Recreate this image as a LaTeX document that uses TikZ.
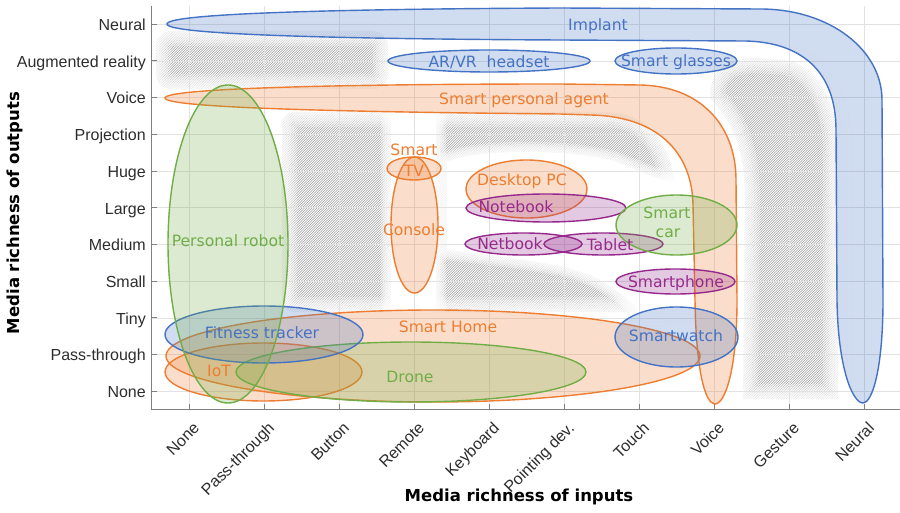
\documentclass[tikz,border=0pt]{standalone}
\usepackage{fontspec}
\setmainfont{DejaVu Sans}
\newfontfamily\tickfont{Liberation Sans}

\definecolor{cBlue}{RGB}{68,114,196}
\definecolor{cOrange}{RGB}{237,125,49}
\definecolor{cGreen}{RGB}{112,173,71}
\definecolor{cPurple}{RGB}{150,42,140}
\definecolor{cGrid}{RGB}{226,226,226}
\definecolor{cAxis}{RGB}{128,128,128}
\definecolor{cTick}{RGB}{45,45,45}
\definecolor{cHatch}{RGB}{158,158,158}

% hatched zone (fine "/" lines) with soft edges
\newcommand\softhatch[1]{%
  \begin{scope}
    \clip #1;
    \foreach \c in {-280,-277.5,...,860}{\draw[hatchline] (\c,420) -- (\c+420,0);}
  \end{scope}
  \foreach \w in {30,24,18,12,6}{\draw[white,line width=\w pt,draw opacity=0.25,line join=round] #1;}}
% white clearing with soft edges
\newcommand\clearing[1]{%
  \foreach \w in {20,16,12,8,4}{\draw[white,line width=\w pt,draw opacity=0.3,line join=round] #1;}
  \fill[white] #1;}

\begin{document}
\begin{tikzpicture}[x=1pt,y=-1pt,
  blob/.style={draw=#1,fill=#1,fill opacity=0.25,draw opacity=1,line width=1.4pt},
  lbl/.style={text=#1,font=\fontsize{15.6}{18}\selectfont,inner sep=0pt,text height=11.4pt,text depth=0pt},
  ticklbl/.style={font=\tickfont\fontsize{16}{19}\selectfont,text=cTick,anchor=east,inner sep=0pt,text height=11.5pt,text depth=0pt},
  hatchline/.style={cHatch,line width=0.55pt},
  gridline/.style={cGrid,line width=0.8pt},
  axisline/.style={cAxis,line width=1pt},
  axtitle/.style={font=\bfseries\fontsize{16.5}{20}\selectfont,text=black,inner sep=0pt}
]
\useasboundingbox (0,0) rectangle (900,513);

% ---- empty (hatched) zones
\softhatch{[rounded corners=15pt] (156,31) rectangle (388,89)}
\softhatch{[rounded corners=12pt] (282,112) -- (600,112) .. controls (650,114) and (674,150) .. (674,200) -- (674,312) -- (282,312) -- cycle}
\softhatch{(710,98) .. controls (710,68) and (728,58) .. (758,58) -- (785,60) .. controls (815,64) and (838,100) .. (838,150) -- (838,399) -- (743,399) -- (745,200) .. controls (745,150) and (733,122) .. cycle}

% ---- clearings around the devices
\clearing{[rounded corners=10pt] (391,108) rectangle (436,316)}
\clearing{(447,162) .. controls (470,150) and (560,148) .. (610,160) .. controls (640,170) and (660,185) .. (705,185) -- (705,312) -- (642,312) .. controls (620,292) and (600,274) .. (560,266) .. controls (520,258) and (480,254) .. (447,250) -- cycle}

% ---- grid
\foreach \i in {0,...,9}{\draw[gridline] ({189.3+75*\i},6) -- ({189.3+75*\i},409.3);}
\foreach \j in {0,...,10}{\draw[gridline] (151.7,{391.3-36.7*\j}) -- (900,{391.3-36.7*\j});}

% ---- device classes
\draw[blob=cBlue] (167,24) .. controls (167,13) and (350,9) .. (560,8) -- (760,9) .. controls (830,9) and (882,50) .. (882,100) -- (883,300) .. controls (883,370) and (872,403) .. (863,403) .. controls (853,403) and (838,370) .. (837,300) -- (836,130) .. controls (836,70) and (800,42) .. (745,41) -- (560,40) .. controls (350,39) and (167,35) .. cycle;
\draw[blob=cOrange] (165,98) .. controls (165,88) and (350,84) .. (560,84) -- (640,85) .. controls (700,86) and (736,125) .. (736,180) -- (737,300) .. controls (737,370) and (725,404) .. (715,404) .. controls (705,404) and (696,370) .. (695,300) -- (693,205) .. controls (692,150) and (655,116) .. (590,115) -- (560,114) .. controls (350,112) and (165,108) .. cycle;
\draw[blob=cOrange] (433,356) ellipse [x radius=267,y radius=46];
\draw[blob=cOrange] (263.5,372) ellipse [x radius=98.5,y radius=29];
\draw[blob=cGreen] (411,372) ellipse [x radius=175,y radius=30];
\draw[blob=cBlue] (264,334.5) ellipse [x radius=99,y radius=28.5];
\draw[blob=cGreen] (228,244) ellipse [x radius=60,y radius=159];
\draw[blob=cBlue] (489,61) ellipse [x radius=101,y radius=11];
\draw[blob=cBlue] (676,61) ellipse [x radius=61,y radius=13];
\draw[blob=cOrange] (414.5,225) ellipse [x radius=23.5,y radius=68];
\draw[blob=cOrange] (414,168.5) ellipse [x radius=27,y radius=11.5];
\draw[blob=cOrange] (526.5,189) ellipse [x radius=60.5,y radius=29];
\draw[blob=cPurple] (546,208) ellipse [x radius=80,y radius=14];
\draw[blob=cPurple] (523.5,244) ellipse [x radius=58.5,y radius=11];
\draw[blob=cPurple] (603.5,244) ellipse [x radius=59.5,y radius=11];
\draw[blob=cGreen] (676.5,225) ellipse [x radius=60.5,y radius=30];
\draw[blob=cPurple] (675.5,281.5) ellipse [x radius=59.5,y radius=12.5];
\draw[blob=cBlue] (676.5,337) ellipse [x radius=61.5,y radius=30];

% ---- labels
\node[lbl=cBlue] (implant) at (598,25) {Implant};
\node[lbl=cBlue] (arvr) at (489,62) {AR/VR~ headset};
\node[lbl=cBlue] (glasses) at (676,61) {Smart glasses};
\node[lbl=cOrange] (agent) at (524,99) {Smart personal agent};
\node[lbl=cOrange] (tv1) at (414,150) {Smart};
\node[lbl=cOrange] (tv2) at (414,171) {TV};
\node[lbl=cOrange] (console) at (414,230) {Console};
\node[lbl=cOrange] (desktop) at (522,180) {Desktop PC};
\node[lbl=cPurple] (notebook) at (516,207) {Notebook};
\node[lbl=cPurple] (netbook) at (510,244) {Netbook};
\node[lbl=cPurple] (tablet) at (610,245) {Tablet};
\node[lbl=cGreen] (car1) at (667,213) {Smart};
\node[lbl=cGreen] (car2) at (668,232) {car};
\node[lbl=cPurple] (phone) at (676,282) {Smartphone};
\node[lbl=cGreen] (robot) at (228,241) {Personal robot};
\node[lbl=cBlue] (fitness) at (262,333) {Fitness tracker};
\node[lbl=cOrange] (home) at (448,327) {Smart Home};
\node[lbl=cOrange] (iot) at (219,371) {IoT};
\node[lbl=cGreen] (drone) at (410,377) {Drone};
\node[lbl=cBlue] (watch) at (676,336) {Smartwatch};

% ---- axes
\draw[axisline] (151.7,6) -- (151.7,409.3) -- (900,409.3);
\foreach \i in {0,...,9}{\draw[axisline] ({189.3+75*\i},409.3) -- ({189.3+75*\i},404);}
\foreach \j in {0,...,10}{\draw[axisline] (151.7,{391.3-36.7*\j}) -- (157,{391.3-36.7*\j});}

\foreach \t [count=\k from 0] in {None,Pass-through,Button,Remote,Keyboard,Pointing dev.,Touch,Voice,Gesture,Neural}
  {\node[ticklbl,rotate=45] (xt\k) at ({196.3+75*\k},425) {\t};}
\foreach \t [count=\k from 0] in {None,Pass-through,Tiny,Small,Medium,Large,Huge,Projection,Voice,Augmented reality,Neural}
  {\node[ticklbl] (yt\k) at (146,{391.8-36.7*\k}) {\t};}

\node[axtitle] (xtitle) at (519,497) {Media richness of inputs};
\node[axtitle,rotate=90] (ytitle) at (15,213) {Media richness of outputs};
\end{tikzpicture}
\end{document}
